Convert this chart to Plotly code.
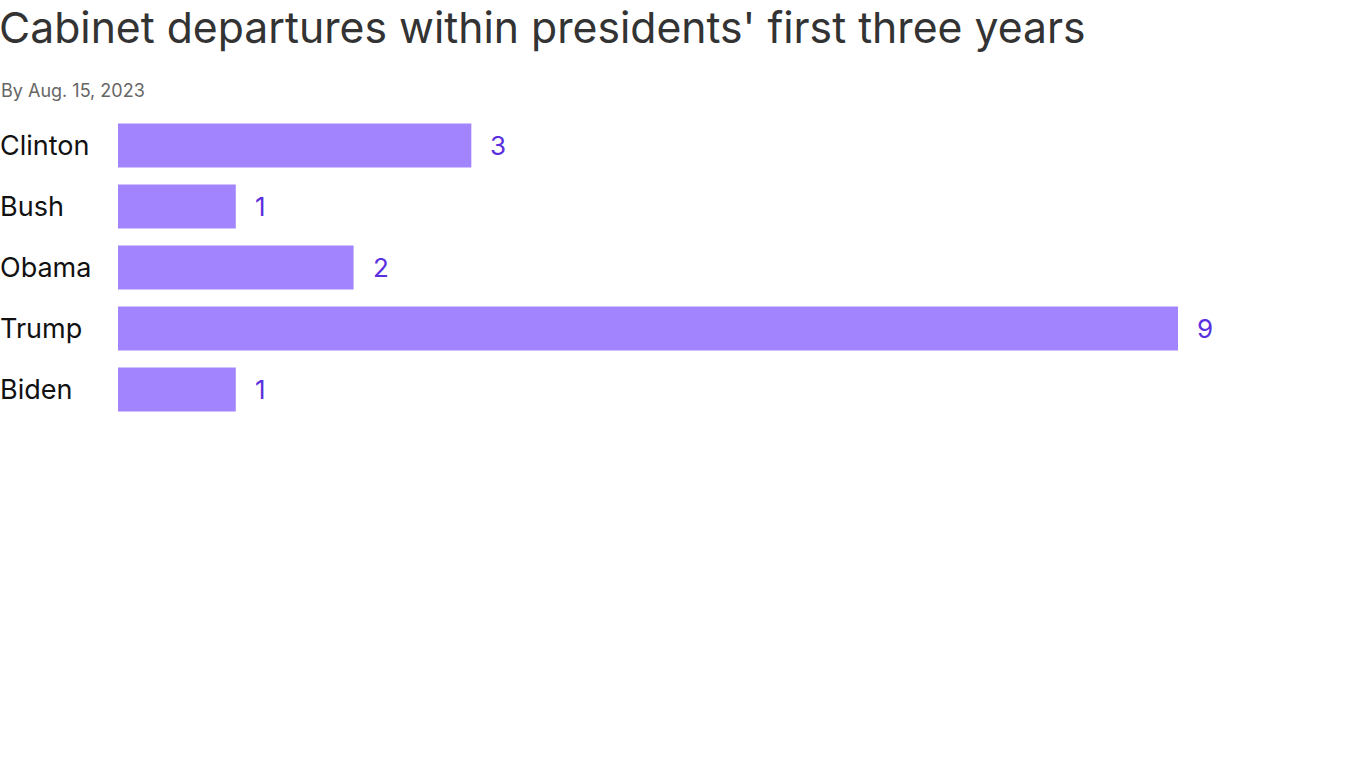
import plotly.graph_objects as go

# Cabinet departures data
presidents = ["Clinton", "Bush", "Obama", "Trump", "Biden"]
departures = [3, 1, 2, 9, 1]

title_text = "Cabinet departures within presidents' first three years"
subtitle_text = "By Aug. 15, 2023"

W, H = 1366, 768
left, right_px = 118, 1178
top_px, bottom_px = 114.5, 420.5

fig = go.Figure()
fig.add_trace(go.Bar(
    x=departures, y=presidents, orientation="h",
    marker=dict(color="#a284ff", line=dict(width=0)),
    hoverinfo="skip",
))

# value labels right of the bars
for p, v in zip(presidents, departures):
    fig.add_annotation(x=v, y=p, xref="x", yref="y", text=str(v),
                       showarrow=False, xanchor="left", xshift=17,
                       font=dict(family="Inter", size=26, color="#5a2fe0"))

# category labels flush left
for p in presidents:
    fig.add_annotation(x=0, y=p, xref="paper", yref="y", text=p,
                       showarrow=False, xanchor="left", xshift=-left - 2,
                       font=dict(family="Inter", size=27, color="#111111"))

ph = bottom_px - top_px
fig.add_annotation(x=0, y=(bottom_px - 27) / ph, xref="paper", yref="paper",
                   text=title_text, showarrow=False, xanchor="left", yanchor="middle",
                   xshift=-left - 3,
                   font=dict(family="Inter", size=42.7, color="#333333"))
fig.add_annotation(x=0, y=(bottom_px - 90) / ph, xref="paper", yref="paper",
                   text=subtitle_text, showarrow=False, xanchor="left", yanchor="middle",
                   xshift=-left - 1,
                   font=dict(family="Inter", size=18, color="#666666"))

fig.update_layout(
    width=W, height=H,
    margin=dict(l=left, r=W - right_px, t=top_px, b=H - bottom_px, pad=0),
    plot_bgcolor="white", paper_bgcolor="white",
    showlegend=False, bargap=0.28,
    xaxis=dict(range=[0, 9], visible=False, fixedrange=True),
    yaxis=dict(autorange="reversed", showticklabels=False, showgrid=False,
               zeroline=False, fixedrange=True),
)

fig.write_html("out.html", config={"displayModeBar": False},
               post_script="document.body.style.margin='0';")
